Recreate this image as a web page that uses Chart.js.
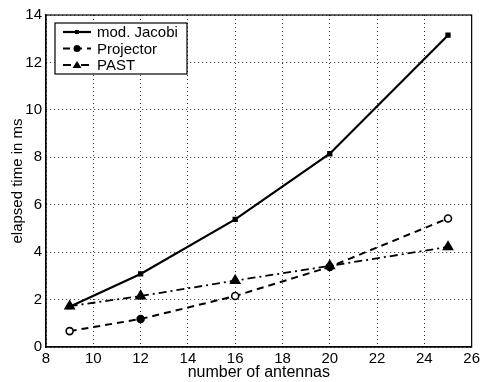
<!DOCTYPE html>
<html>
<head>
<meta charset="utf-8">
<script src="https://cdn.jsdelivr.net/npm/chart.js@4/dist/chart.umd.min.js"></script>
<style>
  html, body { margin: 0; padding: 0; background: #fff; }
  #wrap { width: 483px; height: 382px; }
</style>
</head>
<body>
<div id="wrap"><canvas id="myChart" width="483" height="382"></canvas></div>
<script>
const antennas = [9, 12, 16, 20, 25];
const jacobiMs = [1.7, 3.08, 5.38, 8.15, 13.15];
const projectorMs = [0.67, 1.18, 2.15, 3.38, 5.42];
const pastMs = [1.72, 2.15, 2.8, 3.42, 4.22];
const xTicks = [8, 10, 12, 14, 16, 18, 20, 22, 24, 26];
const yTicks = [0, 2, 4, 6, 8, 10, 12, 14];

const font = "'Liberation Sans', Arial, sans-serif";

function pts(xs, ys) {
    return xs.map((x, i) => ({ x: x, y: ys[i] }));
}

// legend box inside the plot, plus the full frame round the axes
const frameAndLegend = {
    id: 'frameAndLegend',
    afterDraw(chart) {
        const ctx = chart.ctx;
        const a = chart.chartArea;
        ctx.save();
        ctx.strokeStyle = '#000';
        ctx.lineWidth = 1.2;
        ctx.setLineDash([]);
        ctx.strokeRect(a.left, a.top, a.right - a.left, a.bottom - a.top);

        const bx = 55, by = 23, bw = 132, bh = 51;
        ctx.fillStyle = '#fff';
        ctx.fillRect(bx, by, bw, bh);
        ctx.strokeRect(bx, by, bw, bh);
        ctx.font = '15px ' + font;
        ctx.textBaseline = 'middle';
        chart.data.datasets.forEach((ds, i) => {
            const y = by + 9 + i * 16.5;
            ctx.strokeStyle = '#000';
            ctx.lineWidth = ds.borderWidth;
            ctx.setLineDash(ds.borderDash || []);
            ctx.beginPath();
            ctx.moveTo(bx + 8, y);
            ctx.lineTo(bx + 36, y);
            ctx.stroke();
            ctx.setLineDash([]);
            const mx = bx + 22;
            ctx.fillStyle = '#000';
            ctx.beginPath();
            if (ds.pointStyle === 'triangle') {
                ctx.moveTo(mx, y - 4);
                ctx.lineTo(mx + 4.5, y + 3);
                ctx.lineTo(mx - 4.5, y + 3);
                ctx.closePath();
            } else if (ds.pointStyle === 'circle') {
                ctx.arc(mx, y, 3.5, 0, Math.PI * 2);
            } else {
                ctx.rect(mx - 2, y - 2, 4, 4);
            }
            ctx.fill();
            ctx.fillText(ds.label, bx + 42, y + 1);
        });
        ctx.restore();
    }
};

const ctx = document.getElementById('myChart');
const chart = new Chart(ctx, {
    type: 'line',
    data: {
        datasets: [{
            label: 'mod. Jacobi',
            data: pts(antennas, jacobiMs),
            borderColor: '#000',
            backgroundColor: '#000',
            borderWidth: 2.2,
            pointStyle: 'rect',
            pointRadius: 2.2,
            tension: 0
        }, {
            label: 'Projector',
            data: pts(antennas, projectorMs),
            borderColor: '#000',
            backgroundColor: ['#fff', '#000', '#fff', '#000', '#fff'],
            pointBackgroundColor: ['#fff', '#000', '#fff', '#000', '#fff'],
            borderWidth: 2,
            borderDash: [7, 5],
            pointStyle: 'circle',
            pointRadius: 3.5,
            pointBorderWidth: 1.6,
            tension: 0
        }, {
            label: 'PAST',
            data: pts(antennas, pastMs),
            borderColor: '#000',
            backgroundColor: '#000',
            borderWidth: 1.8,
            borderDash: [8, 4, 2, 4],
            pointStyle: 'triangle',
            pointRadius: 5,
            tension: 0
        }]
    },
    options: {
        responsive: false,
        animation: false,
        layout: { padding: { top: 15, right: 9, left: 0, bottom: 0 } },
        plugins: {
            legend: { display: false },
            tooltip: { enabled: false }
        },
        scales: {
            x: {
                type: 'linear',
                min: 8,
                max: 26,
                afterBuildTicks: s => { s.ticks = xTicks.map(v => ({ value: v })); },
                afterFit: s => { s.height = 35; },
                grid: {
                    color: '#333',
                    lineWidth: 1,
                    drawTicks: false
                },
                border: { color: '#000', width: 1.2, dash: [1, 3] },
                ticks: { color: '#000', font: { family: font, size: 15 }, padding: 3, maxRotation: 0 },
                title: {
                    display: true,
                    text: 'number of antennas',
                    color: '#000',
                    font: { family: font, size: 16 },
                    padding: { top: -2, bottom: 0 }
                }
            },
            y: {
                min: 0,
                max: 14,
                afterBuildTicks: s => { s.ticks = yTicks.map(v => ({ value: v })); },
                afterFit: s => { s.width = 46; },
                grid: {
                    color: '#333',
                    lineWidth: 1,
                    drawTicks: false
                },
                border: { color: '#000', width: 1.2, dash: [1, 3] },
                ticks: { color: '#000', font: { family: font, size: 15 }, padding: 4 },
                title: {
                    display: true,
                    text: 'elapsed time in ms',
                    color: '#000',
                    font: { family: font, size: 15 },
                    padding: { top: 9, bottom: 0 }
                }
            }
        }
    },
    plugins: [frameAndLegend]
});
</script>
</body>
</html>
